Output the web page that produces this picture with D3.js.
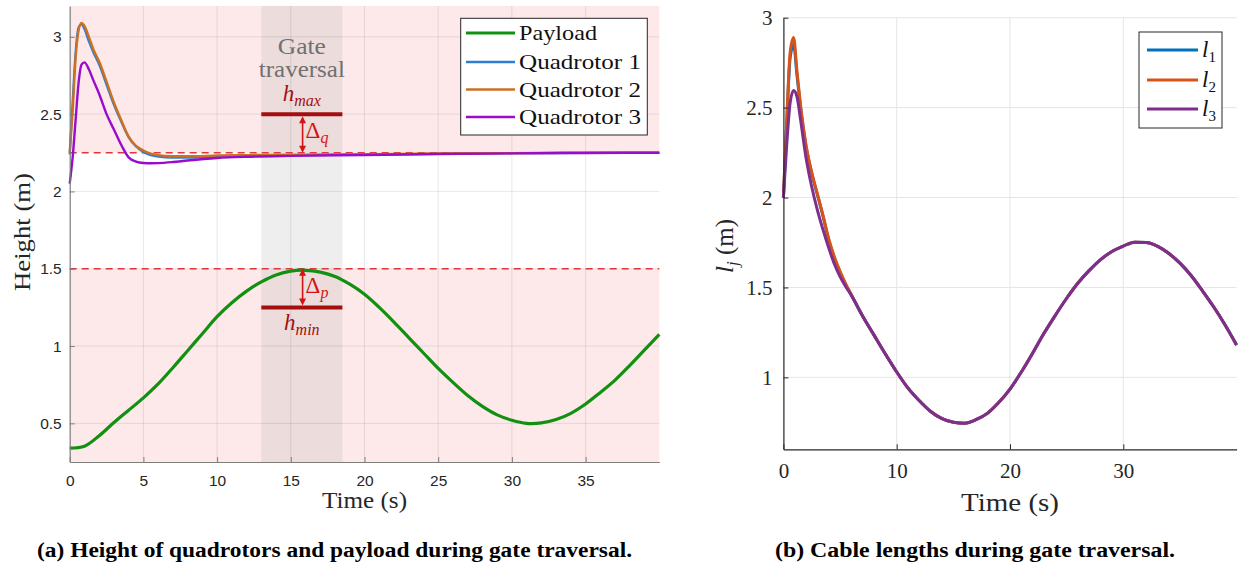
<!DOCTYPE html>
<html><head><meta charset="utf-8">
<script src="https://cdn.jsdelivr.net/npm/d3@7/dist/d3.min.js"></script>
<style>body{margin:0;background:#fff}svg{display:block}</style></head>
<body><svg id="c" width="1239" height="565"></svg>
<script>
// ---------------- data ----------------
const payloadTime = [0,1,2,3,4,5,6,7,8,9,10,11,12,13,14,15,16,17,18,19,20,21,22,23,24,25,26,27,28,29,30,31,32,33,34,35,36,37,38,39,40];
const payload = [0.34,0.352,0.42,0.505,0.585,0.665,0.755,0.86,0.97,1.08,1.19,1.28,1.355,1.415,1.46,1.485,1.49,1.478,1.45,1.40,1.335,1.25,1.155,1.055,0.955,0.855,0.765,0.68,0.61,0.555,0.52,0.50,0.503,0.525,0.565,0.625,0.70,0.78,0.875,0.975,1.075];

const quadTime = [0,0.2,0.4,0.6,0.8,1.0,1.3,1.6,2.0,2.5,3.0,3.5,4.0,4.5,5.0,5.5,6,7,8,10,12,15,20,25,30,35,40];
const quad1 = [2.24,2.58,2.90,3.06,3.08,3.05,2.97,2.90,2.82,2.69,2.56,2.45,2.35,2.29,2.255,2.235,2.225,2.218,2.218,2.225,2.23,2.234,2.238,2.243,2.247,2.249,2.25];
const quad2 = [2.25,2.52,2.86,3.04,3.09,3.07,3.00,2.92,2.84,2.71,2.575,2.46,2.355,2.295,2.265,2.245,2.235,2.228,2.228,2.232,2.235,2.238,2.241,2.245,2.248,2.25,2.25];
const quad3 = [2.05,2.22,2.46,2.70,2.82,2.835,2.79,2.72,2.63,2.50,2.40,2.30,2.22,2.193,2.184,2.182,2.183,2.19,2.20,2.216,2.224,2.23,2.236,2.242,2.246,2.249,2.25];

const cableTime = [0,0.3,0.6,0.9,1.2,1.5,2,2.5,3,3.5,4,4.5,5,5.5,6,7,8,9,10,11,12,13,14,15,16,17,18,19,20,21,22,23,24,25,26,27,28,29,30,31,32,33,34,35,36,37,38,39,40];
const cable1 = [2.0,2.42,2.78,2.85,2.68,2.51,2.285,2.135,2.015,1.895,1.765,1.665,1.585,1.515,1.458,1.34,1.235,1.13,1.03,0.94,0.87,0.81,0.77,0.75,0.745,0.765,0.80,0.86,0.935,1.03,1.135,1.245,1.345,1.44,1.525,1.595,1.655,1.70,1.73,1.752,1.75,1.73,1.69,1.635,1.565,1.48,1.39,1.29,1.18];
const cable2 = [2.0,2.44,2.81,2.89,2.70,2.52,2.29,2.14,2.02,1.90,1.77,1.67,1.59,1.52,1.46,1.34,1.235,1.13,1.03,0.94,0.87,0.81,0.77,0.75,0.745,0.765,0.80,0.86,0.935,1.03,1.135,1.245,1.345,1.44,1.525,1.595,1.655,1.70,1.73,1.752,1.75,1.73,1.69,1.635,1.565,1.48,1.39,1.29,1.18];
const cable3 = [2.0,2.30,2.53,2.595,2.56,2.44,2.22,2.06,1.93,1.82,1.72,1.63,1.56,1.505,1.455,1.34,1.235,1.13,1.03,0.94,0.87,0.81,0.77,0.75,0.745,0.765,0.80,0.86,0.935,1.03,1.135,1.245,1.345,1.44,1.525,1.595,1.655,1.70,1.73,1.752,1.75,1.73,1.69,1.635,1.565,1.48,1.39,1.29,1.18];

const leftXTicks = [0,5,10,15,20,25,30,35];
const leftYTicks = [0.5,1,1.5,2,2.5,3];
const rightXTicks = [0,10,20,30];
const rightYTicks = [1,1.5,2,2.5,3];
const gate = [13, 18.5];
const hMax = 2.5, hMin = 1.25, quadLimit = 2.25, payloadLimit = 1.5;
const leftSeries = ["Payload","Quadrotor 1","Quadrotor 2","Quadrotor 3"];
const rightSeries = ["1","2","3"];

// ---------------- drawing ----------------
const serif = "Liberation Serif, Times New Roman, serif";
const sans = "Liberation Sans, Arial, sans-serif";
const svg = d3.select("#c");

// ===== LEFT PANEL =====
const xL = d3.scaleLinear().domain([0,40]).range([69.7,659.3]);
const yL = d3.scaleLinear().domain([0.25,3.2]).range([462,5.9]);
const L = svg.append("g");
const pink = "#fde9e9";
L.append("rect").attr("x",xL(0)).attr("y",yL(3.2)).attr("width",xL(40)-xL(0)).attr("height",yL(quadLimit)-yL(3.2)).attr("fill",pink);
L.append("rect").attr("x",xL(0)).attr("y",yL(payloadLimit)).attr("width",xL(40)-xL(0)).attr("height",yL(0.25)-yL(payloadLimit)).attr("fill",pink);
L.append("rect").attr("x",xL(gate[0])).attr("y",yL(3.2)).attr("width",xL(gate[1])-xL(gate[0])).attr("height",yL(0.25)-yL(3.2)).attr("fill","#a8a8a8").attr("opacity",0.2);
// grid
L.selectAll(".gx").data(leftXTicks.slice(1)).join("line").attr("x1",d=>xL(d)).attr("x2",d=>xL(d)).attr("y1",yL(3.2)).attr("y2",yL(0.25)).attr("stroke","#000").attr("stroke-opacity",0.09);
L.selectAll(".gy").data(leftYTicks).join("line").attr("x1",xL(0)).attr("x2",xL(40)).attr("y1",d=>yL(d)).attr("y2",d=>yL(d)).attr("stroke","#000").attr("stroke-opacity",0.09);
// dashed limits
[quadLimit,payloadLimit].forEach(v=>{
  L.append("line").attr("x1",xL(0)).attr("x2",xL(40)).attr("y1",yL(v)).attr("y2",yL(v)).attr("stroke","#e0393b").attr("stroke-width",1.6).attr("stroke-dasharray","7,5");
});
const lineL = (t,v)=>d3.line().x((d,i)=>xL(t[i])).y(d=>yL(d)).curve(d3.curveMonotoneX)(v);
const lineLs = (t,v)=>d3.line().x((d,i)=>xL(t[i])).y(d=>yL(d)).curve(d3.curveCatmullRom.alpha(0.5))(v);
const leftColors = ["#119011","#2e7fd0","#cc7022","#9a0ccc"];
L.append("path").attr("d",lineL(quadTime,quad1)).attr("fill","none").attr("stroke",leftColors[1]).attr("stroke-width",2.2);
L.append("path").attr("d",lineL(quadTime,quad2)).attr("fill","none").attr("stroke",leftColors[2]).attr("stroke-width",2.4);
L.append("path").attr("d",lineL(quadTime,quad3)).attr("fill","none").attr("stroke",leftColors[3]).attr("stroke-width",2.4);
L.append("path").attr("d",lineLs(payloadTime,payload)).attr("fill","none").attr("stroke",leftColors[0]).attr("stroke-width",3.2);

// gate annotations
const gx = xL((gate[0]+gate[1])/2);
L.append("text").attr("x",gx).attr("y",54).attr("text-anchor","middle").attr("font-family",serif).attr("font-size",23).attr("fill","#707070")
  .attr("textLength",48).attr("lengthAdjust","spacingAndGlyphs").text("Gate");
L.append("text").attr("x",gx).attr("y",77).attr("text-anchor","middle").attr("font-family",serif).attr("font-size",23).attr("fill","#707070")
  .attr("textLength",86).attr("lengthAdjust","spacingAndGlyphs").text("traversal");
const dark = "#a30f0f", red = "#d41414";
[hMax,hMin].forEach(v=>{
  L.append("line").attr("x1",xL(gate[0])).attr("x2",xL(gate[1])).attr("y1",yL(v)).attr("y2",yL(v)).attr("stroke",dark).attr("stroke-width",4);
});
const ax = xL(15.8);
function dArrow(y1,y2){
  L.append("line").attr("x1",ax).attr("x2",ax).attr("y1",y1+5).attr("y2",y2-5).attr("stroke",red).attr("stroke-width",1.6);
  L.append("path").attr("d",`M${ax},${y1} l-3.5,7 l7,0 z`).attr("fill",red);
  L.append("path").attr("d",`M${ax},${y2} l-3.5,-7 l7,0 z`).attr("fill",red);
}
dArrow(yL(hMax)+2,yL(quadLimit));
dArrow(yL(payloadLimit),yL(hMin)-2);
function subLabel(g,x,y,main,sub,color,anchor,italicMain){
  const t = g.append("text").attr("x",x).attr("y",y).attr("text-anchor",anchor).attr("font-family",serif).attr("font-size",23).attr("fill",color);
  t.append("tspan").attr("font-style",italicMain?"italic":"normal").text(main);
  t.append("tspan").attr("font-style","italic").attr("font-size",16).attr("dy",5).text(sub);
  return t;
}
subLabel(L,gx,101,"h","max",dark,"middle",true);
subLabel(L,gx,330,"h","min",dark,"middle",true);
subLabel(L,ax+3,138,"Δ","q",red,"start",false);
subLabel(L,ax+3,293,"Δ","p",red,"start",false);

// axes
const axL = d3.axisBottom(xL).tickValues(leftXTicks).tickFormat(d3.format("d")).tickSizeInner(-5).tickSizeOuter(0).tickPadding(13);
const gxa = L.append("g").attr("transform",`translate(0,${yL(0.25)})`).call(axL);
const ayL = d3.axisLeft(yL).tickValues(leftYTicks).tickFormat(d=>String(d)).tickSizeInner(-5).tickSizeOuter(0).tickPadding(8);
const gya = L.append("g").attr("transform",`translate(${xL(0)},0)`).call(ayL);
[gxa,gya].forEach(g=>{
  g.select(".domain").attr("stroke","#7d7d7d").attr("stroke-width",1.2);
  g.selectAll(".tick line").attr("stroke","#7d7d7d");
  g.selectAll("text").attr("font-family",sans).attr("font-size",15.5).attr("fill","#262626");
});
L.append("text").attr("x",xL(20)).attr("y",508).attr("text-anchor","middle").attr("font-family",serif).attr("font-size",23).attr("fill","#262626")
  .attr("textLength",85).attr("lengthAdjust","spacingAndGlyphs").text("Time (s)");
L.append("text").attr("transform","translate(30,232) rotate(-90)").attr("text-anchor","middle").attr("font-family",serif).attr("font-size",23).attr("fill","#262626")
  .attr("textLength",118).attr("lengthAdjust","spacingAndGlyphs").text("Height (m)");

// legend left
const lg = L.append("g");
lg.append("rect").attr("x",460.7).attr("y",18.3).attr("width",186.6).attr("height",116.7).attr("fill","#fff").attr("stroke","#262626").attr("stroke-width",1);
const legY = [33,62,89.5,117];
const legW = [78,122,122,122];
leftSeries.forEach((s,i)=>{
  lg.append("line").attr("x1",466).attr("x2",515).attr("y1",legY[i]).attr("y2",legY[i]).attr("stroke",leftColors[i]).attr("stroke-width",i===0?3.2:2.4);
  lg.append("text").attr("x",519).attr("y",legY[i]+7).attr("font-family",serif).attr("font-size",22).attr("fill","#111")
    .attr("textLength",legW[i]).attr("lengthAdjust","spacingAndGlyphs").text(s);
});

// ===== RIGHT PANEL =====
const xR = d3.scaleLinear().domain([0,40]).range([783.4,1236.6]);
const yR = d3.scaleLinear().domain([0.6,3]).range([449.3,17.7]);
const R = svg.append("g");
R.selectAll(".gx").data(rightXTicks.slice(1)).join("line").attr("x1",d=>xR(d)).attr("x2",d=>xR(d)).attr("y1",yR(3)).attr("y2",yR(0.6)).attr("stroke","#e5e5e5");
R.selectAll(".gy").data(rightYTicks).join("line").attr("x1",xR(0)).attr("x2",xR(40)).attr("y1",d=>yR(d)).attr("y2",d=>yR(d)).attr("stroke","#e5e5e5");
const rightColors = ["#0072BD","#D95319","#7E2F8E"];
const lineR = (t,v)=>d3.line().x((d,i)=>xR(t[i])).y(d=>yR(d)).curve(d3.curveMonotoneX)(v);
[cable1,cable2,cable3].forEach((c,i)=>{
  R.append("path").attr("d",lineR(cableTime,c)).attr("fill","none").attr("stroke",rightColors[i]).attr("stroke-width",3);
});
const axR = d3.axisBottom(xR).tickValues(rightXTicks).tickFormat(d3.format("d")).tickSizeInner(-5).tickSizeOuter(0).tickPadding(14);
const gxr = R.append("g").attr("transform",`translate(0,${yR(0.6)})`).call(axR);
const ayR = d3.axisLeft(yR).tickValues(rightYTicks).tickFormat(d=>String(d)).tickSizeInner(-5).tickSizeOuter(0).tickPadding(11);
const gyr = R.append("g").attr("transform",`translate(${xR(0)},0)`).call(ayR);
[gxr,gyr].forEach(g=>{
  g.select(".domain").attr("stroke","#262626").attr("stroke-width",1.2);
  g.selectAll(".tick line").attr("stroke","#262626");
  g.selectAll("text").attr("font-family",serif).attr("font-size",21).attr("fill","#262626");
});
R.append("text").attr("x",xR(20)).attr("y",511).attr("text-anchor","middle").attr("font-family",serif).attr("font-size",25).attr("fill","#262626")
  .attr("textLength",98).attr("lengthAdjust","spacingAndGlyphs").text("Time (s)");
const yl = R.append("text").attr("transform","translate(733,246) rotate(-90)").attr("text-anchor","middle").attr("font-family",serif).attr("font-size",25).attr("fill","#262626");
yl.append("tspan").attr("font-style","italic").text("l");
yl.append("tspan").attr("font-style","italic").attr("font-size",17).attr("dy",5).text("j");
yl.append("tspan").attr("dy",-5).text("  (m)");

// legend right
const rg = R.append("g");
rg.append("rect").attr("x",1139).attr("y",32).attr("width",83).attr("height",96).attr("fill","#fff").attr("stroke","#262626").attr("stroke-width",1);
const rLegY = [50,80,109];
rightSeries.forEach((s,i)=>{
  rg.append("line").attr("x1",1147).attr("x2",1198).attr("y1",rLegY[i]).attr("y2",rLegY[i]).attr("stroke",rightColors[i]).attr("stroke-width",3);
  const t = rg.append("text").attr("x",1202).attr("y",rLegY[i]+7).attr("font-family",serif).attr("font-size",23).attr("fill","#111");
  t.append("tspan").attr("font-style","italic").text("l");
  t.append("tspan").attr("font-size",15).attr("dy",5).text(s);
});

// captions
svg.append("text").attr("x",37).attr("y",557).attr("font-family",serif).attr("font-weight","bold").attr("font-size",20).attr("fill","#000")
  .attr("textLength",595).attr("lengthAdjust","spacingAndGlyphs").text("(a) Height of quadrotors and payload during gate traversal.");
svg.append("text").attr("x",775).attr("y",557).attr("font-family",serif).attr("font-weight","bold").attr("font-size",20).attr("fill","#000")
  .attr("textLength",400).attr("lengthAdjust","spacingAndGlyphs").text("(b) Cable lengths during gate traversal.");
</script></body></html>
